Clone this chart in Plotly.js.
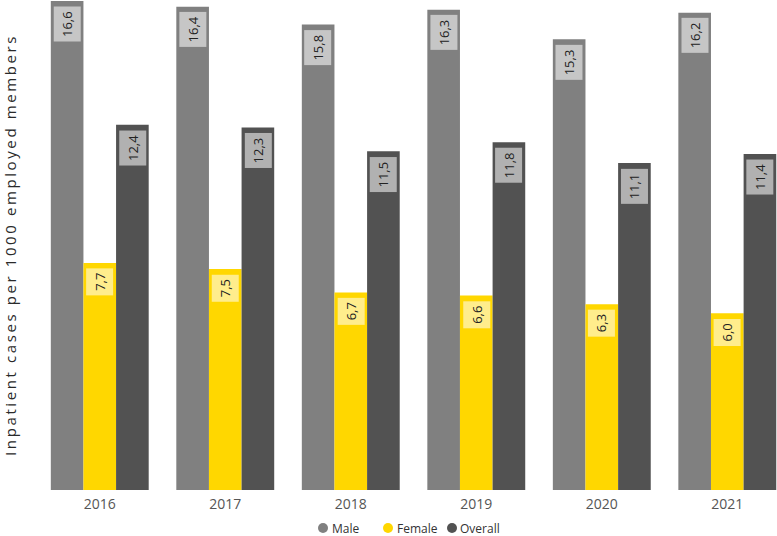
<!DOCTYPE html>
<html>
<head>
<meta charset="utf-8">
<script src="https://cdn.plot.ly/plotly-3.0.1.min.js"></script>
<style>html,body{margin:0;padding:0;background:#fff;}#chart{width:777px;height:536px;}</style>
</head>
<body>
<div id="chart"></div>
<script>
const years = ['2016', '2017', '2018', '2019', '2020', '2021'];
const male = [16.6, 16.4, 15.8, 16.3, 15.3, 16.2];
const female = [7.7, 7.5, 6.7, 6.6, 6.3, 6.0];
const overall = [12.4, 12.3, 11.5, 11.8, 11.1, 11.4];
const seriesNames = ['Male', 'Female', 'Overall'];
const seriesColors = ['#808080', '#FFD700', '#525252'];

const seriesData = [male, female, overall];
const bargap = 0.22;
const barW = (1 - bargap) / 3;

const plotLeft = 37, plotW = 740, plotBottom = 490, plotH = 490;
const px = p => (p - plotLeft) / plotW;
const py = p => (plotBottom - p) / plotH;

const traces = [];
seriesData.forEach((vals, i) => {
  traces.push({
    type: 'bar', x: years, y: vals, name: seriesNames[i],
    marker: {color: seriesColors[i]}, showlegend: false
  });
});

const annotations = [];
seriesData.forEach((vals, i) => {
  vals.forEach((v, j) => {
    annotations.push({
      x: j + (i - 1) * barW, y: v, xref: 'x', yref: 'y',
      text: v.toFixed(1).replace('.', ','),
      textangle: -90, showarrow: false,
      xanchor: 'center', yanchor: 'top', yshift: -5,
      bgcolor: 'rgba(255,255,255,0.55)', borderpad: 4,
      font: {family: 'Open Sans, sans-serif', size: 13, color: '#222'}
    });
  });
});

// legend row: circle markers (shapes) + labels
const legendMarkerX = [323, 388, 452];
const legendTextX = [331, 396, 459];
const legendY = 528;
const shapes = [];
seriesNames.forEach((name, i) => {
  shapes.push({
    type: 'circle', xref: 'paper', yref: 'paper',
    xsizemode: 'pixel', ysizemode: 'pixel',
    xanchor: px(legendMarkerX[i]), yanchor: py(legendY),
    x0: -5, x1: 5, y0: -5, y1: 5,
    fillcolor: seriesColors[i], line: {width: 0}
  });
  annotations.push({
    xref: 'paper', yref: 'paper',
    x: px(legendTextX[i]), y: py(legendY),
    xanchor: 'left', yanchor: 'middle', showarrow: false, borderpad: 0,
    text: name,
    font: {family: 'Open Sans, sans-serif', size: 12, color: '#333'}
  });
});

const layout = {
  width: 777, height: 536,
  margin: {l: plotLeft, r: 0, t: 0, b: 536 - plotBottom},
  paper_bgcolor: '#ffffff', plot_bgcolor: '#ffffff',
  barmode: 'group', bargap: bargap, bargroupgap: 0,
  font: {family: 'Open Sans, sans-serif', color: '#555'},
  showlegend: false,
  xaxis: {
    type: 'category', range: [-0.5, 5.396], showgrid: false, zeroline: false,
    showline: false, ticks: '', ticklabelstandoff: 4,
    tickfont: {size: 14, color: '#555'}
  },
  yaxis: {
    range: [0, 16.63], showgrid: false, zeroline: false, showline: false,
    showticklabels: false, ticks: '',
    title: {text: '<span style="letter-spacing:2.6px">Inpatient cases per 1000 employed members</span>',
            standoff: 24, font: {size: 15, color: '#2a2a2a'}}
  },
  shapes: shapes,
  annotations: annotations
};

Plotly.newPlot('chart', traces, layout, {displayModeBar: false, staticPlot: true});
</script>
</body>
</html>
